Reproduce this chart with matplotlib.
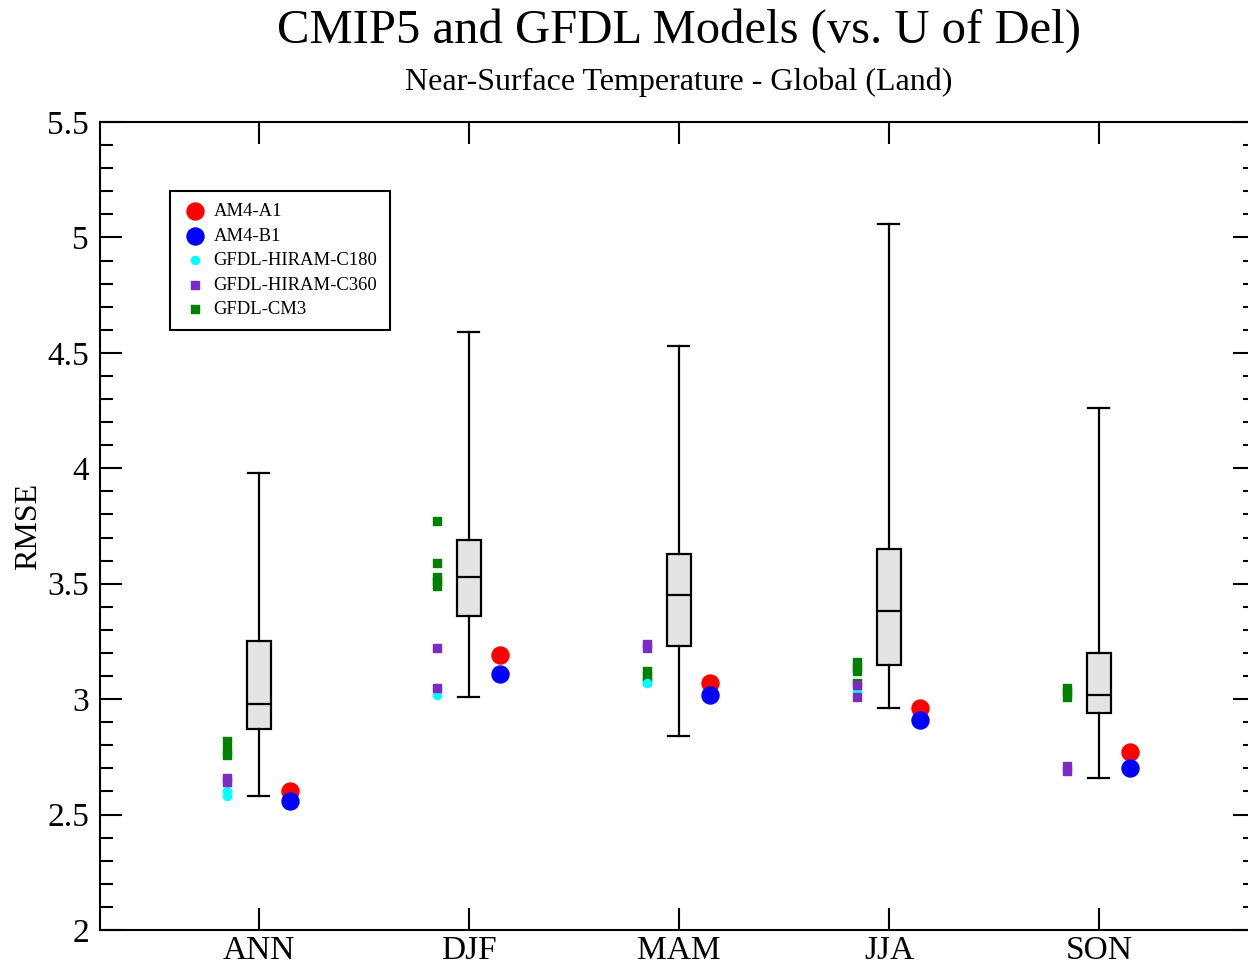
import matplotlib
matplotlib.use("Agg")
import matplotlib.pyplot as plt
from matplotlib.ticker import MultipleLocator

plt.rcParams['font.family'] = ['Liberation Serif', 'DejaVu Serif']

# seasons and box statistics (whisker low, q1, median, q3, whisker high)
seasons = ['ANN', 'DJF', 'MAM', 'JJA', 'SON']
whislo = [2.58, 3.01, 2.84, 2.96, 2.66]
q1 = [2.87, 3.36, 3.23, 3.15, 2.94]
med = [2.98, 3.53, 3.45, 3.38, 3.02]
q3 = [3.25, 3.69, 3.63, 3.65, 3.20]
whishi = [3.98, 4.59, 4.53, 5.06, 4.26]

# model points per season
am4_a1 = [2.60, 3.19, 3.07, 2.96, 2.77]
am4_b1 = [2.56, 3.11, 3.02, 2.91, 2.70]
hiram_c180 = [[2.58, 2.60], [3.05, 3.02], [3.07], [3.03], []]
hiram_c360 = [[2.64, 2.66], [3.22, 3.05], [3.24, 3.22], [3.06, 3.01], [2.71, 2.69]]
cm3 = [[2.82, 2.78, 2.76], [3.77, 3.59, 3.53, 3.51, 3.49],
       [3.12, 3.10, 3.08], [3.16, 3.14, 3.12, 3.07], [3.05, 3.03, 3.01]]

fig = plt.figure(figsize=(12.48, 9.67), dpi=100)
ax = fig.add_axes([100/1248, 1-930/967, 1155/1248, 808/967])

pos = list(range(1, len(seasons)+1))
stats = []
for i in range(len(seasons)):
    stats.append({'whislo': whislo[i], 'q1': q1[i], 'med': med[i],
                  'q3': q3[i], 'whishi': whishi[i], 'fliers': []})
ax.bxp(stats, positions=pos, widths=0.115, patch_artist=True,
       boxprops=dict(facecolor='#e4e4e4', edgecolor='black', linewidth=1.6),
       medianprops=dict(color='black', linewidth=1.6),
       whiskerprops=dict(color='black', linewidth=1.6),
       capprops=dict(color='black', linewidth=1.6), capwidths=0.1)

off_m = -0.152
off_a = 0.148
for i, p in enumerate(pos):
    ax.scatter([p+off_m]*len(cm3[i]), cm3[i], marker='s', s=28, color='#008000', zorder=3)
    ax.scatter([p+off_m]*len(hiram_c180[i]), hiram_c180[i], marker='o', s=34, color='#00ffff', zorder=3)
    ax.scatter([p+off_m]*len(hiram_c360[i]), hiram_c360[i], marker='s', s=28, color='#7a2bc2', zorder=4)

ax.scatter([p+off_a for p in pos], am4_a1, marker='o', s=150, color='red', zorder=5)
ax.scatter([p+off_a for p in pos], am4_b1, marker='o', s=150, color='blue', zorder=6)

# legend handles
h1 = ax.scatter([], [], marker='o', s=150, color='red')
h2 = ax.scatter([], [], marker='o', s=150, color='blue')
h3 = ax.scatter([], [], marker='o', s=34, color='#00ffff')
h4 = ax.scatter([], [], marker='s', s=28, color='#7a2bc2')
h5 = ax.scatter([], [], marker='s', s=28, color='#008000')
leg = ax.legend([h1, h2, h3, h4, h5],
                ['AM4-A1', 'AM4-B1', 'GFDL-HIRAM-C180', 'GFDL-HIRAM-C360', 'GFDL-CM3'],
                loc='upper left', bbox_to_anchor=(0.0606, 0.9146), borderaxespad=0,
                fontsize=13.4, fancybox=False, edgecolor='black', framealpha=1,
                borderpad=0.65, labelspacing=0.4, handletextpad=0.3, handlelength=1.4)
leg.get_frame().set_linewidth(1.5)

ax.set_xlim(0.243, 5.743)
ax.set_ylim(2, 5.5)
ax.set_xticks(pos)
ax.set_xticklabels(seasons, fontsize=24)
ax.yaxis.set_minor_locator(MultipleLocator(0.1))
ax.set_yticks([2, 2.5, 3, 3.5, 4, 4.5, 5, 5.5])
ax.set_yticklabels(['2', '2.5', '3', '3.5', '4', '4.5', '5', '5.5'], fontsize=24)
ax.tick_params(axis='both', which='major', direction='in', length=16, width=1.5,
               top=True, right=True, pad=8)
ax.tick_params(axis='x', which='major', pad=4)
ax.tick_params(axis='y', which='minor', direction='in', length=9, width=1.5, right=True)
for sp in ax.spines.values():
    sp.set_linewidth(1.5)

ax.set_ylabel('RMSE', fontsize=23)
ax.yaxis.set_label_coords(-0.049, 0.5)

fig.text(0.544, 0.968, 'CMIP5 and GFDL Models (vs. U of Del)', ha='center', va='center', fontsize=35)
fig.text(0.544, 0.915, 'Near-Surface Temperature - Global (Land)', ha='center', va='center', fontsize=23)

fig.savefig('out.png', dpi=100)
